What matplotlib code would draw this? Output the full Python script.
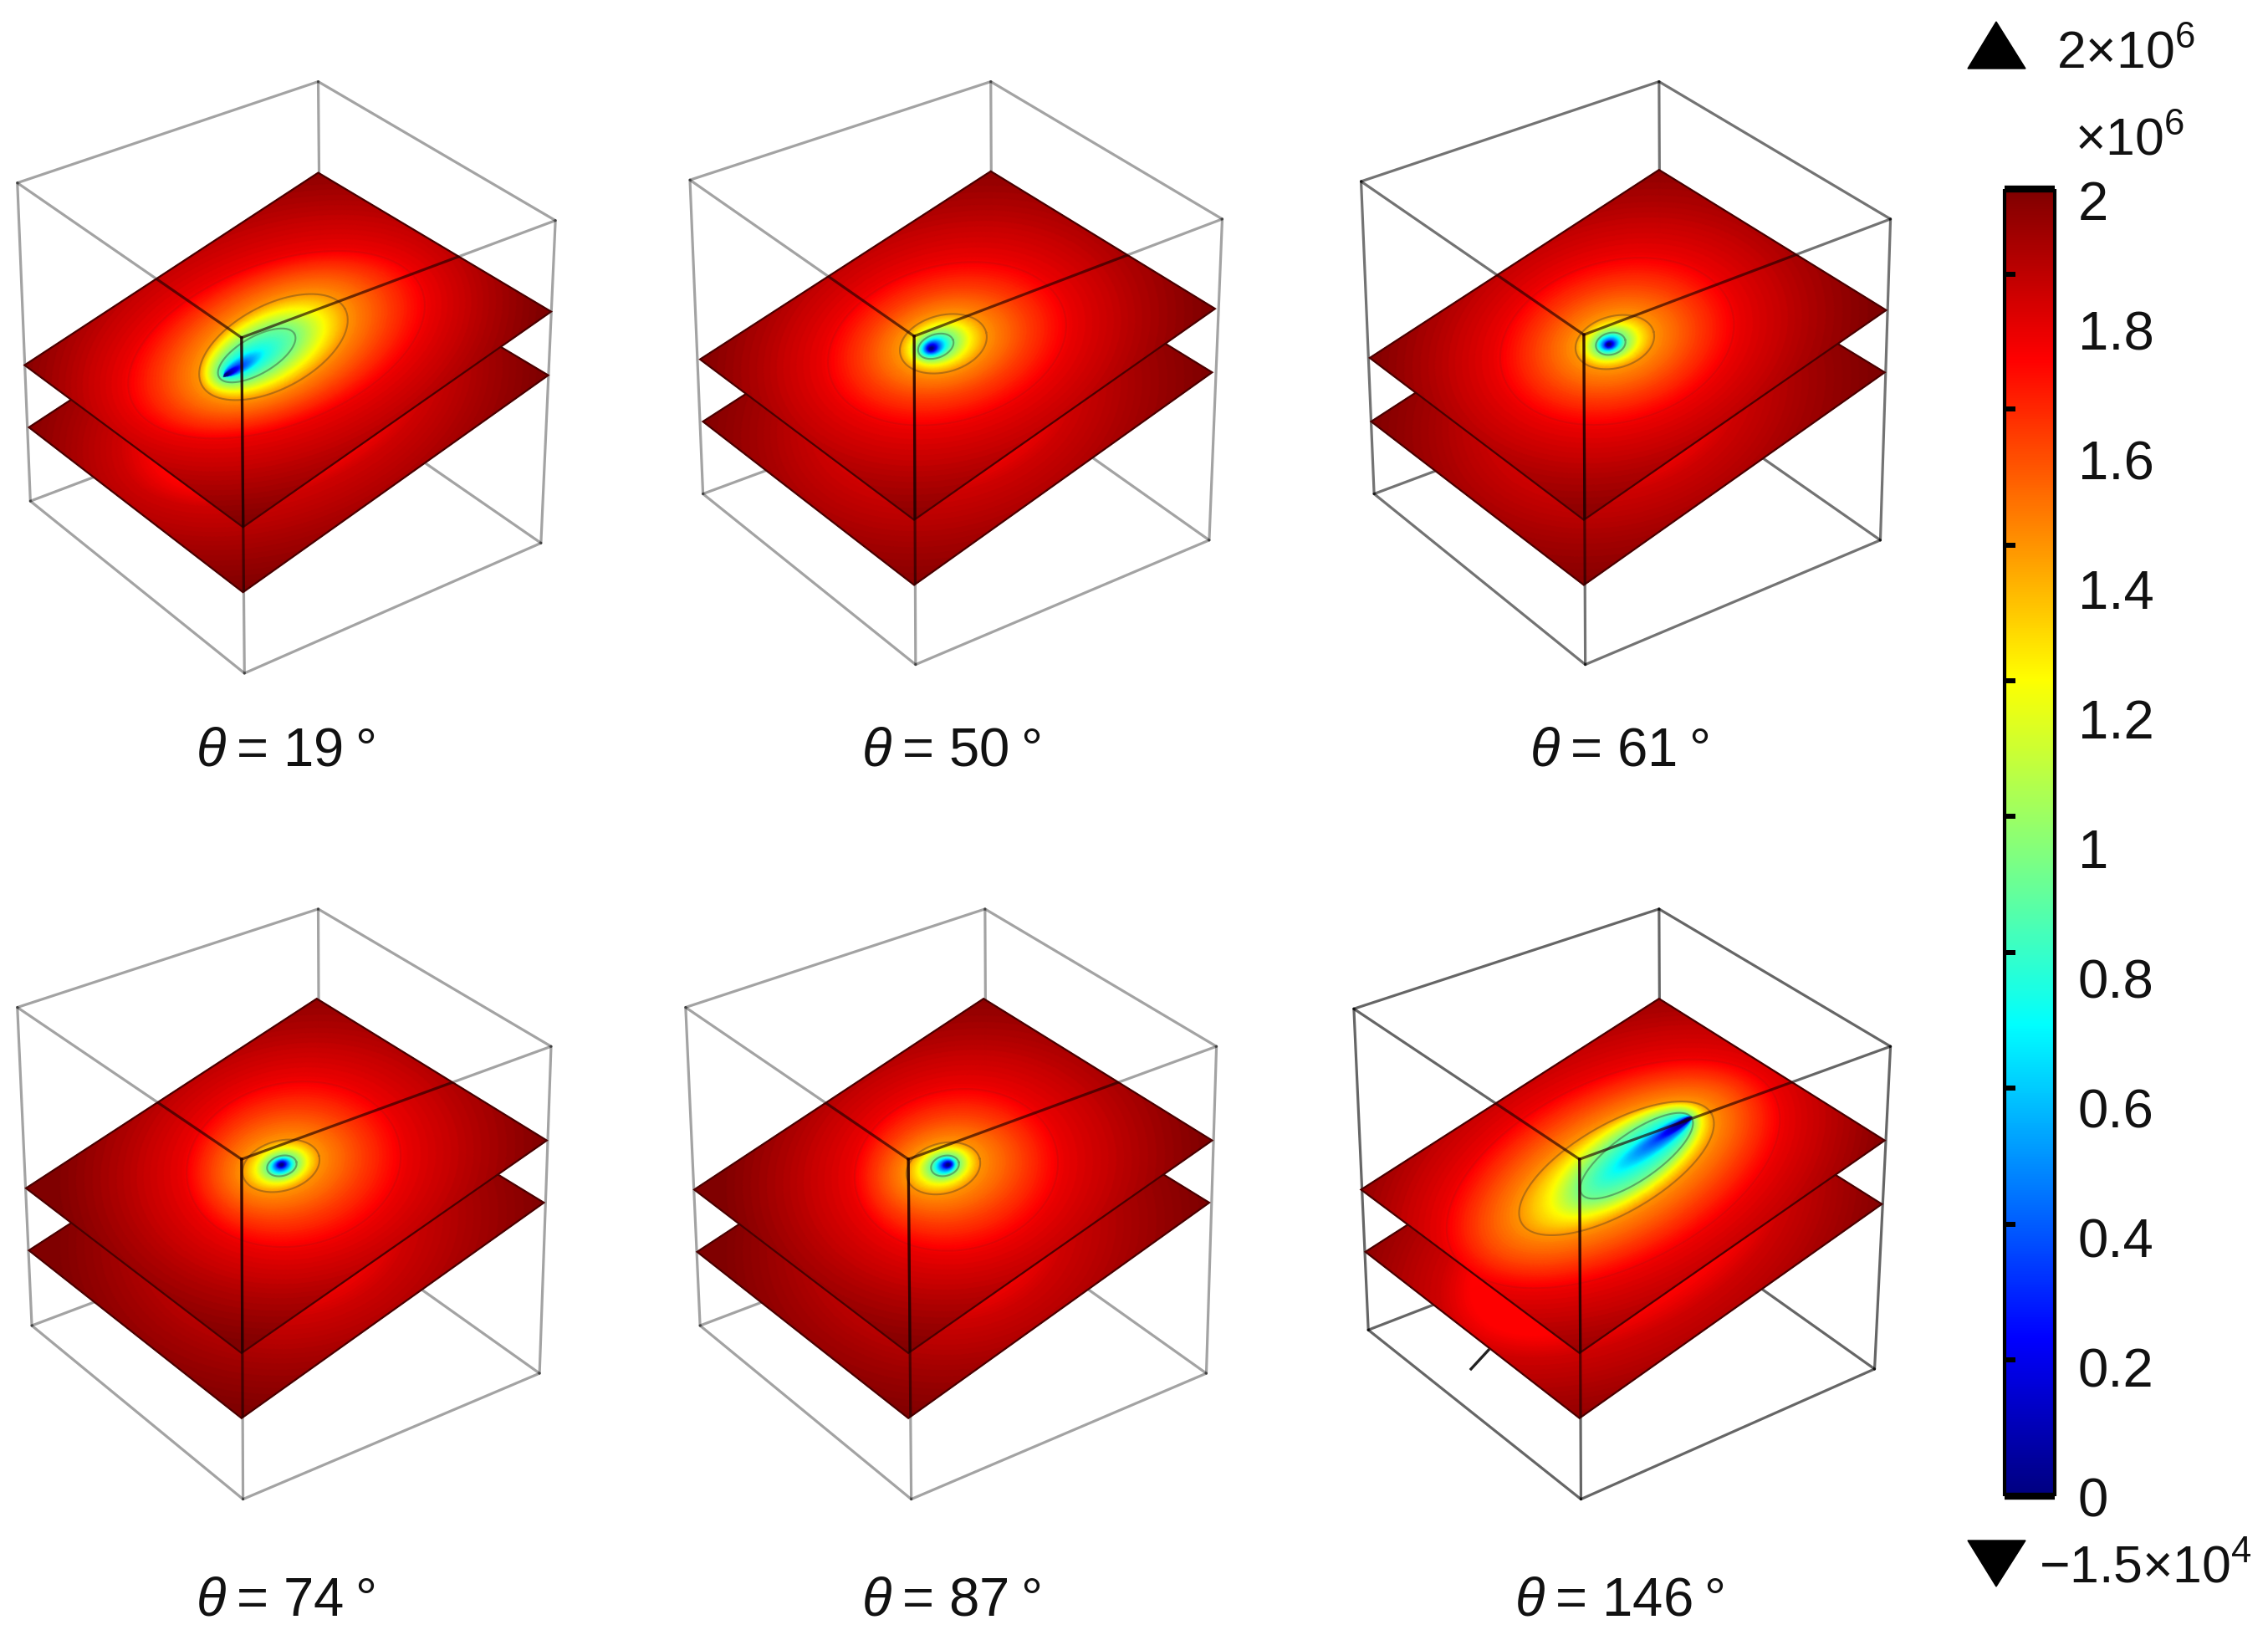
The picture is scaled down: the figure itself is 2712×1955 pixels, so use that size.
import matplotlib
matplotlib.use("Agg")
import matplotlib.pyplot as plt
import numpy as np
from matplotlib.colors import LinearSegmentedColormap
from matplotlib.patches import Polygon

plt.rcParams["font.family"] = ["Liberation Sans", "DejaVu Sans"]
plt.rcParams["mathtext.fontset"] = "custom"
plt.rcParams["mathtext.rm"] = "Liberation Sans"
plt.rcParams["mathtext.it"] = "Liberation Sans:italic"

# ------------------------------
# Panel labels and colour bar
# ------------------------------
thetas = [19, 50, 61, 74, 87, 146]
label_x = [341, 1137, 1936, 341, 1137, 1936]
label_y = [916, 916, 916, 1931, 1931, 1931]

bar_labels = ["0", "0.2", "0.4", "0.6", "0.8", "1", "1.2", "1.4", "1.6", "1.8", "2"]
bar_label_vals = [0, 0.2, 0.4, 0.6, 0.8, 1.0, 1.2, 1.4, 1.6, 1.8, 2.0]
bar_tick_vals = [0.208, 0.416, 0.624, 0.832, 1.04, 1.247, 1.455, 1.663, 1.87]

# colour stops
cmap_vals = [0, 0.24, 0.72, 0.98, 1.25, 1.74, 2.0]
cmap_cols = ["#000080", "#0000ff", "#00ffff", "#80ff80", "#ffff00", "#ff0000", "#800000"]

# ------------------------------
# Box corners (in 1568 wide coordinates)
# ------------------------------
top_back = [(220, 57), (685, 57), (1147, 57), (220, 629), (681, 629), (1147, 629)]
top_left = [(12, 127), (477, 125), (941, 126), (12, 697), (474, 697), (936, 698)]
top_right = [(384, 153), (845, 152), (1307, 152), (381, 724), (841, 724), (1307, 724)]
top_front = [(167, 234), (632, 233), (1095, 232), (167, 802), (628, 802), (1092, 802)]
bot_front = [(169, 466), (633, 460), (1096, 460), (168, 1037), (630, 1037), (1093, 1037)]
bot_left = [(21, 347), (486, 342), (950, 342), (22, 917), (484, 917), (946, 920)]
bot_right = [(374, 376), (836, 374), (1300, 374), (373, 950), (834, 950), (1296, 947)]
bot_back = [(222, 271), (686, 268), (1148, 268), (221, 842), (682, 842), (1148, 842)]

up_back = [(220, 120), (685, 119), (1147, 118), (219, 691), (680, 691), (1147, 691)]
up_left = [(17, 253), (484, 249), (947, 248), (18, 822), (480, 823), (941, 823)]
up_right = [(381, 216), (840, 214), (1304, 215), (378, 789), (838, 789), (1303, 789)]
up_front = [(168, 365), (632, 360), (1095, 360), (167, 936), (628, 936), (1092, 936)]

lo_back = [(220, 165), (685, 164), (1147, 163), (219, 736), (680, 736), (1147, 736)]
lo_left = [(20, 296), (486, 292), (948, 292), (20, 865), (482, 866), (944, 866)]
lo_right = [(379, 260), (838, 258), (1303, 258), (376, 832), (836, 832), (1301, 833)]
lo_front = [(168, 410), (632, 405), (1095, 405), (167, 981), (628, 981), (1092, 981)]

edge_alpha = [0.36, 0.36, 0.55, 0.36, 0.36, 0.6]

# ------------------------------
# Field contours (pixels of the full image)
# ------------------------------
levels = [0, 0.4, 0.75, 0.95, 1.25, 1.45, 1.6, 1.78, 1.9, 2.0]

cx_all = [
    [270, 280, 293, 307, 318, 327, 329, 331, 332, 332],
    [1114, 1115, 1117, 1119, 1124, 1128, 1130, 1133, 1136, 1138],
    [1924, 1925, 1925, 1926, 1928, 1931, 1932, 1934, 1936, 1938],
    [337, 337, 337, 337, 337, 336, 342, 353, 358, 360],
    [1134, 1133, 1131, 1130, 1129, 1128, 1136, 1145, 1150, 1152],
    [2018, 2000, 1975, 1957, 1945, 1933, 1930, 1929, 1929, 1929],
]
cy_all = [
    [450, 444, 435, 426, 420, 416, 414, 413, 411, 410],
    [418, 417, 416, 415, 413, 412, 412, 412, 412, 412],
    [413, 413, 412, 412, 411, 410, 410, 409, 408, 408],
    [1394, 1394, 1395, 1395, 1395, 1395, 1394, 1393, 1392, 1390],
    [1394, 1394, 1395, 1395, 1396, 1398, 1399, 1400, 1400, 1400],
    [1340, 1352, 1370, 1383, 1390, 1398, 1402, 1405, 1405, 1405],
]
a_all = [
    [3, 14, 28, 52, 78, 97, 140, 195, 262, 325],
    [2, 8, 15, 22, 37, 53, 96, 155, 235, 315],
    [2, 7, 13, 18, 33, 48, 94, 152, 232, 312],
    [2, 7, 13, 18, 32, 47, 88, 137, 220, 300],
    [2, 7, 12, 17, 31, 45, 84, 130, 215, 295],
    [6, 28, 58, 80, 105, 131, 175, 222, 290, 350],
]
b_all = [
    [1.5, 4, 10, 22, 38, 50, 74, 102, 158, 212],
    [1.5, 6, 10, 14, 24, 34, 60, 100, 160, 220],
    [1.5, 5, 9, 13, 22, 31, 62, 103, 160, 220],
    [1.5, 5, 9, 12, 21, 30, 62, 105, 160, 220],
    [1.5, 5, 9, 12, 21, 30, 60, 103, 160, 220],
    [2, 5, 13, 28, 42, 53, 82, 118, 175, 230],
]
ang_all = [
    [-30, -30, -30, -30, -28, -28, -24, -20, -18, -15],
    [-20, -20, -20, -20, -17, -15, -15, -15, -15, -15],
    [-15, -15, -15, -15, -15, -15, -15, -15, -15, -15],
    [-15, -15, -15, -15, -15, -15, -12, -10, -10, -10],
    [-15, -15, -15, -15, -15, -15, -12, -10, -10, -10],
    [-32, -33, -35, -35, -33, -30, -28, -25, -22, -20],
]
lower_shift = 78
lower_floor = 1.74
line_levels = [0.95, 1.45, 1.75]
line_alpha = [0.4, 0.35, 0.1]

SCALE = 2712 / 1568


def px(p):
    return np.array(p, dtype=float) * SCALE


def ellipse_params(i, lev):
    return (np.interp(lev, levels, cx_all[i]), np.interp(lev, levels, cy_all[i]),
            np.interp(lev, levels, a_all[i]), np.interp(lev, levels, b_all[i]),
            np.radians(np.interp(lev, levels, ang_all[i])))


def plane_field(i, X, Y, shift):
    # paint the nested contours from the outside in
    V = np.full(X.shape, 2.0)
    for lev in np.linspace(2.0, 0.0, 161):
        cx, cy, a, b, t = ellipse_params(i, lev)
        dx = X - cx
        dy = Y - (cy + shift)
        p = dx * np.cos(t) + dy * np.sin(t)
        q = -dx * np.sin(t) + dy * np.cos(t)
        V[(p / a) ** 2 + (q / b) ** 2 <= 1] = lev
    return V


def draw_plane(ax, i, corners, shift, z):
    back, left, right, front = corners
    u, v = np.meshgrid(np.linspace(0, 1, 420), np.linspace(0, 1, 420))
    u = u[..., None]
    v = v[..., None]
    P = (1 - u) * (1 - v) * left + u * (1 - v) * back + (1 - u) * v * front + u * v * right
    X, Y = P[..., 0], P[..., 1]
    V = plane_field(i, X, Y, shift)
    if shift:
        # the lower plate never leaves the red end of the scale where it can be seen
        V = np.maximum(lower_floor, 2 - (2 - V) * 0.75)
    ax.pcolormesh(X, Y, V, shading="gouraud", cmap=field_cmap, vmin=0, vmax=2, zorder=z)
    poly = Polygon([back, right, front, left], closed=True, fill=False,
                   edgecolor="#4a0000", lw=1.6, zorder=z + 0.1, transform=ax.transData)
    ax.add_patch(poly)
    return Polygon([back, right, front, left], closed=True, transform=ax.transData)


field_cmap = LinearSegmentedColormap.from_list(
    "rainbow_bar", [(v / 2, c) for v, c in zip(cmap_vals, cmap_cols)], N=512)

# ------------------------------
# Figure
# ------------------------------
fig = plt.figure(figsize=(27.12, 19.56), dpi=100, facecolor="white")
ax = fig.add_axes([0, 0, 1, 1])
ax.set_xlim(0, 2712)
ax.set_ylim(1956, 0)
ax.axis("off")

for i in range(6):
    tb, tl, tr, tf = px(top_back[i]), px(top_left[i]), px(top_right[i]), px(top_front[i])
    bf, bl, br, bb = px(bot_front[i]), px(bot_left[i]), px(bot_right[i]), px(bot_back[i])
    al = edge_alpha[i]

    # all twelve box edges, planes go on top of them
    edges = [(tb, tl), (tb, tr), (tl, tf), (tr, tf), (tb, bb), (tl, bl), (tr, br), (tf, bf),
             (bl, bf), (br, bf), (bl, bb), (br, bb)]
    for p, q in edges:
        ax.plot([p[0], q[0]], [p[1], q[1]], color="black", alpha=al, lw=2.3,
                solid_capstyle="round", zorder=1)

    lo_clip = draw_plane(ax, i, (px(lo_back[i]), px(lo_left[i]), px(lo_right[i]), px(lo_front[i])),
                         lower_shift, 2)
    up_clip = draw_plane(ax, i, (px(up_back[i]), px(up_left[i]), px(up_right[i]), px(up_front[i])),
                         0, 3)

    # contour lines on the upper plane
    for lev, la in zip(line_levels, line_alpha):
        cx, cy, a, b, t = ellipse_params(i, lev)
        s = np.linspace(0, 2 * np.pi, 200)
        ex = cx + a * np.cos(s) * np.cos(t) - b * np.sin(s) * np.sin(t)
        ey = cy + a * np.cos(s) * np.sin(t) + b * np.sin(s) * np.cos(t)
        line, = ax.plot(ex, ey, color="#303030", alpha=la, lw=1.5, zorder=4)
        line.set_clip_path(up_clip)

    # front edges show through the planes
    for p, q in [(tl, tf), (tr, tf), (tf, bf)]:
        line, = ax.plot([p[0], q[0]], [p[1], q[1]], color="#200000", alpha=0.65, lw=2.3, zorder=5)
        line.set_clip_path(up_clip)
    line, = ax.plot([tf[0], bf[0]], [tf[1], bf[1]], color="#200000", alpha=0.65, lw=2.3, zorder=5)
    line.set_clip_path(lo_clip)

    ax.text(label_x[i], label_y[i], f"$\\theta$\u2009= {thetas[i]}\u2009°", fontsize=47,
            ha="center", va="baseline", color="#111111")

# stray mark in the last panel
ax.plot([1017 * SCALE, 1029 * SCALE], [947 * SCALE, 934 * SCALE], color="#222222", lw=2.4, zorder=1.5)

# ------------------------------
# Colour bar
# ------------------------------
bar_left, bar_right, bar_top, bar_bottom = 2397, 2457, 227, 1790
cax = fig.add_axes([bar_left / 2712, 1 - bar_bottom / 1956, (bar_right - bar_left) / 2712,
                    (bar_bottom - bar_top) / 1956])
grad = np.linspace(0, 2, 512).reshape(-1, 1)
cax.imshow(grad, extent=[0, 1, 0, 2], origin="lower", aspect="auto", cmap=field_cmap, vmin=0, vmax=2)
cax.set_xlim(0, 1)
cax.set_ylim(0, 2)
cax.set_xticks([])
cax.set_yticks(bar_tick_vals)
cax.set_yticklabels([])
cax.tick_params(axis="y", direction="in", length=9, width=4.3, left=True, right=True, color="black")
for s in cax.spines.values():
    s.set_linewidth(3)
    s.set_capstyle("butt")
cax.spines["top"].set_linewidth(6)
cax.spines["bottom"].set_linewidth(6)

lab = cax.twinx()
lab.set_ylim((1793 - bar_bottom) / ((1793 - 240) / 2), (1793 - bar_top) / ((1793 - 240) / 2))
lab.set_yticks(bar_label_vals)
lab.set_yticklabels(bar_labels, fontsize=47, color="#111111")
lab.tick_params(axis="y", length=0, pad=20)
for s in lab.spines.values():
    s.set_visible(False)

ax.add_patch(Polygon([(2353, 83), (2387, 27), (2422, 83)], closed=True, color="black"))
ax.add_patch(Polygon([(2353, 1843), (2387, 1898), (2422, 1843)], closed=True, color="black"))
ax.text(2459, 81, "2×10$^{6}$", fontsize=45, ha="left", va="baseline", color="#111111")
ax.text(2481, 185, "×10$^{6}$", fontsize=45, ha="left", va="baseline", color="#111111")
ax.text(2438, 1892, "\u22121.5×10$^{4}$", fontsize=45, ha="left", va="baseline", color="#111111")

fig.savefig("out.png", dpi=100, facecolor="white")
